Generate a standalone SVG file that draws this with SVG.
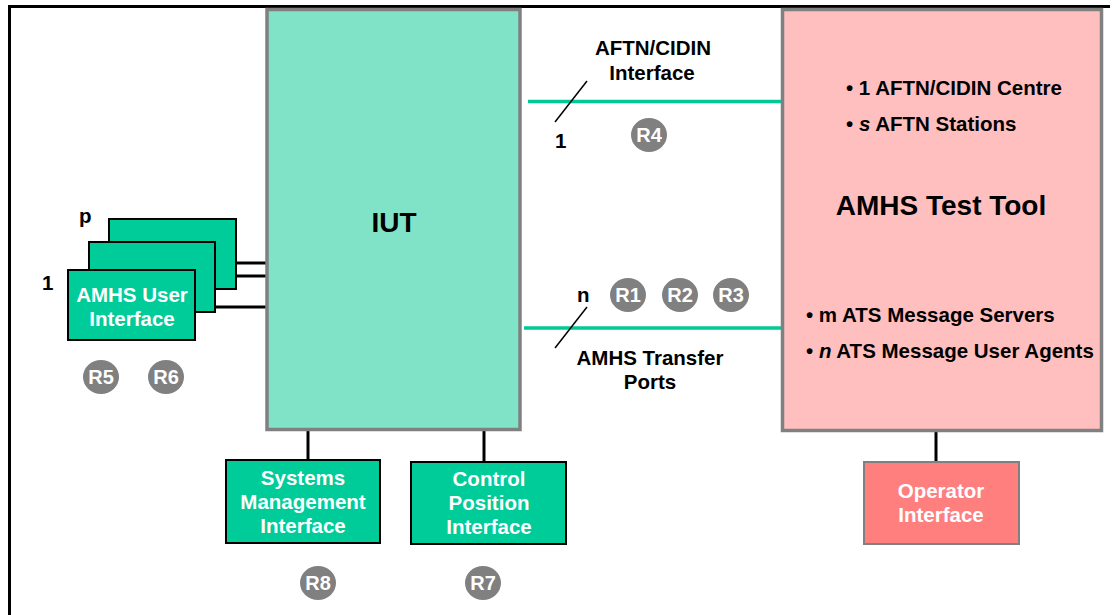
<svg xmlns="http://www.w3.org/2000/svg" width="1119" height="615" viewBox="0 0 1119 615">
<style>
text{font-family:"Liberation Sans",Arial,sans-serif;font-weight:bold}
.lbl{font-size:20.5px;fill:#000}
.wt{font-size:20.5px;fill:#fff;text-anchor:middle}
.ctr{text-anchor:middle}
.big{font-size:28px;fill:#000;text-anchor:middle}
.green{fill:#00cc99;stroke:#000;stroke-width:2}
.conn{stroke:#000;stroke-width:3;fill:none}
.link{stroke:#00c896;stroke-width:3.5;fill:none}
.slash{stroke:#000;stroke-width:1.5}
.rc{fill:#808080}
.rt{font-size:20px;fill:#fff;text-anchor:middle}
</style>
<rect width="1119" height="615" fill="#fff"/>
<g id="frame">
<line x1="8" y1="6.5" x2="1110" y2="6.5" stroke="#000" stroke-width="3"/>
<line x1="9.5" y1="5" x2="9.5" y2="615" stroke="#000" stroke-width="3"/>
</g>
<g id="connectors">
<line class="conn" x1="236" y1="263" x2="266" y2="263"/>
<line class="conn" x1="215" y1="276" x2="266" y2="276"/>
<line class="conn" x1="195" y1="307" x2="267" y2="307"/>
<line class="conn" x1="308" y1="430" x2="308" y2="460"/>
<line class="conn" x1="484" y1="430" x2="484" y2="462"/>
<line class="conn" x1="936" y1="431" x2="936" y2="462"/>
<line class="link" x1="528" y1="101.5" x2="781" y2="101.5"/>
<line class="link" x1="524" y1="328" x2="781" y2="328"/>
<line class="slash" x1="555" y1="122" x2="587" y2="81"/>
<line class="slash" x1="555" y1="348" x2="587" y2="307"/>
</g>
<g id="iut">
<rect x="267" y="9.5" width="253" height="420" fill="#80e3c8" stroke="#808080" stroke-width="3.5"/>
<text class="big" x="394" y="232">IUT</text>
</g>
<g id="test-tool">
<rect x="782.5" y="9.5" width="319" height="421" fill="#ffbfbf" stroke="#808080" stroke-width="3.5"/>
<text class="lbl" x="846" y="95">• 1 AFTN/CIDIN Centre</text>
<text class="lbl" x="846" y="131">• <tspan font-style="italic">s</tspan> AFTN Stations</text>
<text class="big" x="941" y="215">AMHS Test Tool</text>
<text class="lbl" x="806" y="322">• m ATS Message Servers</text>
<text class="lbl" x="806" y="358">• <tspan font-style="italic">n</tspan> ATS Message User Agents</text>
</g>
<g id="user-interface">
<rect class="green" x="109" y="219" width="127" height="70"/>
<rect class="green" x="89" y="242" width="126" height="70"/>
<rect class="green" x="68" y="270" width="127" height="70"/>
<text class="wt" x="132" y="302">AMHS User</text>
<text class="wt" x="132" y="326">Interface</text>
<text class="lbl" x="79" y="223">p</text>
<text class="lbl" x="42" y="290">1</text>
</g>
<g id="sys-mgmt">
<rect class="green" x="226" y="460" width="154" height="83"/>
<text class="wt" x="303" y="485">Systems</text>
<text class="wt" x="303" y="509">Management</text>
<text class="wt" x="303" y="533">Interface</text>
</g>
<g id="control-pos">
<rect class="green" x="411" y="462" width="155" height="82"/>
<text class="wt" x="489" y="486">Control</text>
<text class="wt" x="489" y="510">Position</text>
<text class="wt" x="489" y="534">Interface</text>
</g>
<g id="operator">
<rect x="864" y="462" width="155" height="82" fill="#ff7f7f" stroke="#808080" stroke-width="2"/>
<text class="wt" x="941" y="498">Operator</text>
<text class="wt" x="941" y="522">Interface</text>
</g>
<g id="labels">
<text class="lbl ctr" x="653" y="55">AFTN/CIDIN</text>
<text class="lbl ctr" x="652" y="80">Interface</text>
<text class="lbl" x="555" y="148">1</text>
<text class="lbl" x="577" y="302">n</text>
<text class="lbl ctr" x="650" y="365">AMHS Transfer</text>
<text class="lbl ctr" x="650" y="389">Ports</text>
</g>
<g id="refs">
<ellipse class="rc" cx="649" cy="135" rx="18" ry="17"/><text class="rt" x="649" y="142">R4</text>
<ellipse class="rc" cx="628" cy="295" rx="18" ry="17"/><text class="rt" x="628" y="302">R1</text>
<ellipse class="rc" cx="680" cy="295" rx="18" ry="17"/><text class="rt" x="680" y="302">R2</text>
<ellipse class="rc" cx="731" cy="295" rx="18" ry="17"/><text class="rt" x="731" y="302">R3</text>
<ellipse class="rc" cx="101" cy="377" rx="18" ry="17"/><text class="rt" x="101" y="384">R5</text>
<ellipse class="rc" cx="166" cy="377" rx="18" ry="17"/><text class="rt" x="166" y="384">R6</text>
<ellipse class="rc" cx="318" cy="583" rx="18" ry="17"/><text class="rt" x="318" y="590">R8</text>
<ellipse class="rc" cx="483" cy="583" rx="18" ry="17"/><text class="rt" x="483" y="590">R7</text>
</g>
</svg>
